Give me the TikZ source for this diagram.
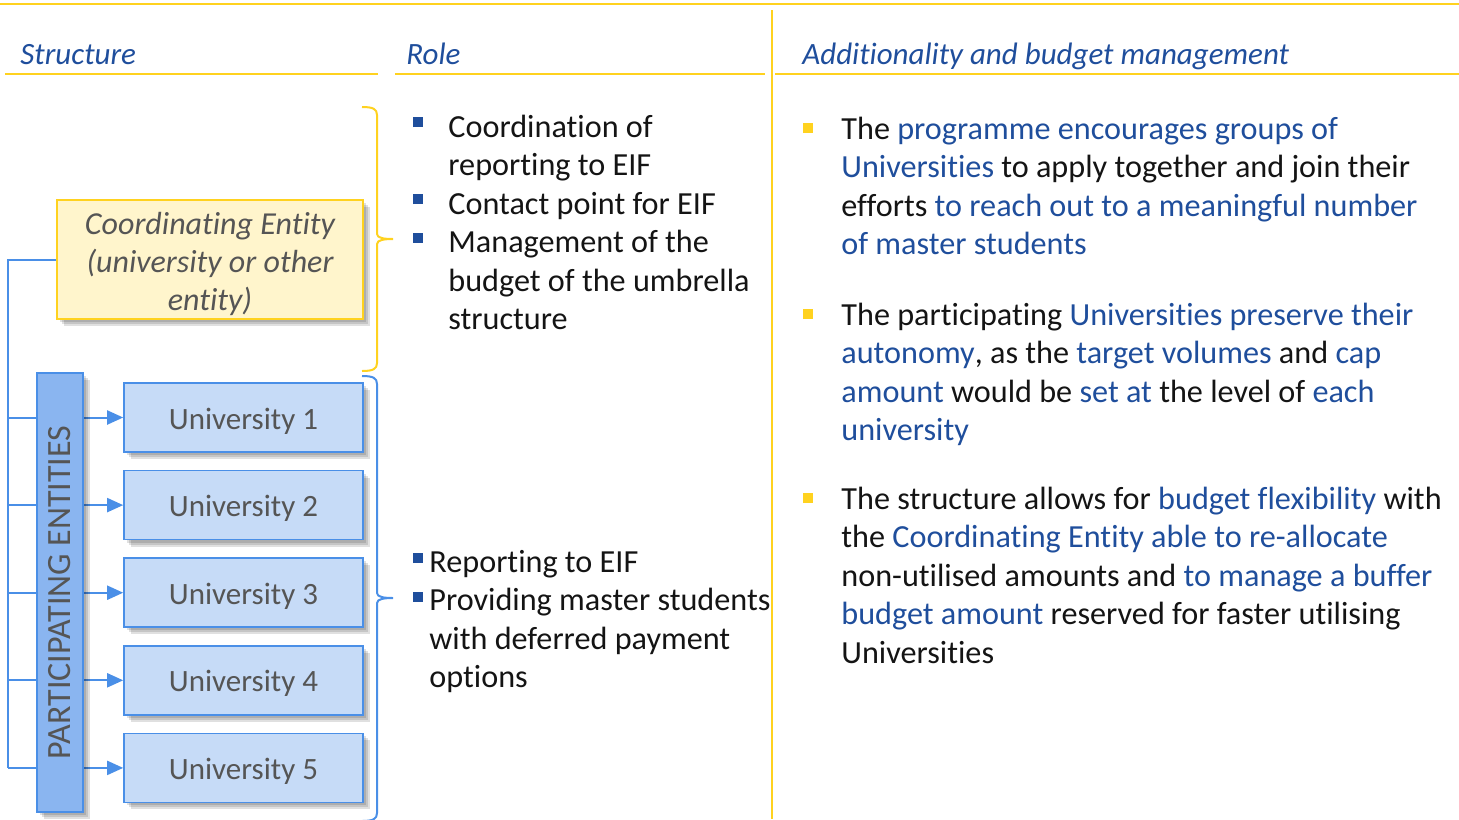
\documentclass[tikz,border=0pt]{standalone}
\usepackage{fontspec}
\setmainfont{Carlito}[Ligatures=NoCommon]
\usetikzlibrary{arrows.meta,shadows}

\definecolor{eifblue}{HTML}{1F4E9C}
\definecolor{eifyellow}{HTML}{FFD21F}
\definecolor{linkblue}{HTML}{4A8FE7}
\definecolor{unifill}{HTML}{C6DBF7}
\definecolor{barfill}{HTML}{8AB5F0}
\definecolor{coordfill}{HTML}{FFF5CC}
\definecolor{boxtext}{HTML}{555555}
\definecolor{bodytext}{HTML}{141414}

\def\bodyfont{\fontsize{16.1pt}{19.25pt}\selectfont}
\def\blu#1{\textcolor{eifblue}{#1}}
\def\sqbullet#1#2#3{\textcolor{#1}{\rule[#3]{#2}{#2}}}
% bracket: x of open ends, top, tip and bottom y
\def\sidebrace[#1](#2,#3,#4,#5){\draw[#1] (#2,#3) .. controls (#2+11,#3) and (#2+15,#3+2) .. (#2+15,#3+8) -- (#2+15,#4-5) .. controls (#2+15,#4-1) and (#2+22,#4) .. (#2+31,#4) .. controls (#2+22,#4) and (#2+15,#4+1) .. (#2+15,#4+5) -- (#2+15,#5-8) .. controls (#2+15,#5-2) and (#2+11,#5) .. (#2,#5);}

\tikzset{
  head/.style={anchor=base west, inner sep=0pt, text=eifblue, font=\fontsize{15.5pt}{18pt}\selectfont\itshape},
  yline/.style={eifyellow, line width=1pt},
  para/.style={anchor=base west, inner sep=0pt, text=bodytext, font=\bodyfont},
  boxshadow/.style={
    drop shadow={shadow xshift=1.5pt, shadow yshift=-1.5pt, opacity=0.12, fill=black},
    drop shadow={shadow xshift=2.5pt, shadow yshift=-2.5pt, opacity=0.12, fill=black},
    drop shadow={shadow xshift=3.5pt, shadow yshift=-3.5pt, opacity=0.12, fill=black}},
  coordbox/.style={draw=eifyellow, fill=coordfill, line width=0.8pt, text=boxtext,
    font=\fontsize{16pt}{19pt}\selectfont\itshape, align=center, inner ysep=0pt,
    minimum width=153pt, minimum height=59.5pt, boxshadow},
  unibox/.style={draw=linkblue, fill=unifill, line width=0.8pt, text=boxtext,
    font=\fontsize{15.5pt}{18pt}\selectfont, text height=12pt, text depth=0.5pt,
    minimum width=119.5pt, minimum height=34.5pt, boxshadow},
  barbox/.style={draw=linkblue, fill=barfill, line width=0.8pt,
    minimum width=23pt, minimum height=219.5pt, boxshadow},
  link/.style={linkblue, line width=1pt},
  ybracket/.style={eifyellow, line width=1pt},
  bbracket/.style={linkblue, line width=1pt}
}

\begin{document}
\begin{tikzpicture}[x=0.5pt, y=-0.5pt]
			%%%%% START %%%%%
			\useasboundingbox (0, 0) rectangle (1459, 819);
			
			\draw[yline] (0, 4) -- (1459, 4);
			\draw[yline] (772, 10) -- (772, 819);
			\draw[yline] (5, 74) -- (378, 74);
			\draw[yline] (395, 74) -- (765, 74);
			\draw[yline] (775, 74) -- (1459, 74);
			
			\node[head] (hstructure) at (20, 64) {Structure};
			\node[head] (hrole) at (406, 64) {Role};
			\node[head] (hbudget) at (802, 64) {Additionality and budget management};
			
			\node[coordbox] (coord) at (210, 259.5) {\rule{0pt}{16pt}Coordinating Entity\\(university or other\\entity)};
			\foreach \i in {1,...,5}
				\node[unibox] (uni\i) at (243.5, {417.5 + 87.6*(\i-1)}) {University \i};
			
			\coordinate (spine) at (8, 0);
			\draw[link] (coord.west) -| (spine |- uni5.west);
			\foreach \i in {1,...,5}
				\draw[link, -{Triangle[length=8pt, width=7pt]}] (spine |- uni\i.west) -- (uni\i.west);
			
			\node[barbox] (bar) at (60, 592.5) {};
			\node[rotate=90, text=boxtext, font=\fontsize{17pt}{19pt}\selectfont] (bartext) at (bar.center) {PARTICIPATING ENTITIES};
			
			\sidebrace[ybracket](362, 107, 239, 371);
			\sidebrace[bbracket](362, 376, 598, 821);
			
			% role of the coordinating entity
			\node[para] (role1) at (413, 137) {\sqbullet{eifblue}{5pt}{5pt}\hspace{12.5pt}\parbox[t]{170pt}{Coordination of\\reporting to EIF}};
			\node[para] (role2) at (413, 214) {\sqbullet{eifblue}{5pt}{5pt}\hspace{12.5pt}\parbox[t]{170pt}{Contact point for EIF}};
			\node[para] (role3) at (413, 252.5) {\sqbullet{eifblue}{5pt}{5pt}\hspace{12.5pt}\parbox[t]{170pt}{Management of the\\budget of the umbrella\\structure}};
			
			% role of the universities
			\node[para] (role4) at (413, 572) {\sqbullet{eifblue}{5pt}{4.5pt}\hspace{3pt}\parbox[t]{175pt}{Reporting to EIF}};
			\node[para] (role5) at (413, 610.5) {\sqbullet{eifblue}{5pt}{4.5pt}\hspace{3pt}\parbox[t]{175pt}{Providing master students\\with deferred payment\\options}};
			
			% additionality and budget management
			\node[para] (add1) at (803, 139) {\sqbullet{eifyellow}{5pt}{3pt}\hspace{14pt}\parbox[t]{320pt}{The \blu{programme encourages groups of}\\\blu{Universities} to apply together and join their\\efforts \blu{to reach out to a meaningful number}\\\blu{of master students}}};
			\node[para] (add2) at (803, 325) {\sqbullet{eifyellow}{5pt}{3pt}\hspace{14pt}\parbox[t]{320pt}{The participating \blu{Universities preserve their}\\\blu{autonomy}, as the \blu{target volumes} and \blu{cap}\\\blu{amount} would be \blu{set at} the level of \blu{each}\\\blu{university}}};
			\node[para] (add3) at (803, 509) {\sqbullet{eifyellow}{5pt}{3pt}\hspace{14pt}\parbox[t]{320pt}{The structure allows for \blu{budget flexibility} with\\the \blu{Coordinating Entity able to re-allocate}\\non-utilised amounts and \blu{to manage a buffer}\\\blu{budget amount} reserved for faster utilising\\Universities}};
			%%%%% END %%%%%
\end{tikzpicture}
\end{document}
